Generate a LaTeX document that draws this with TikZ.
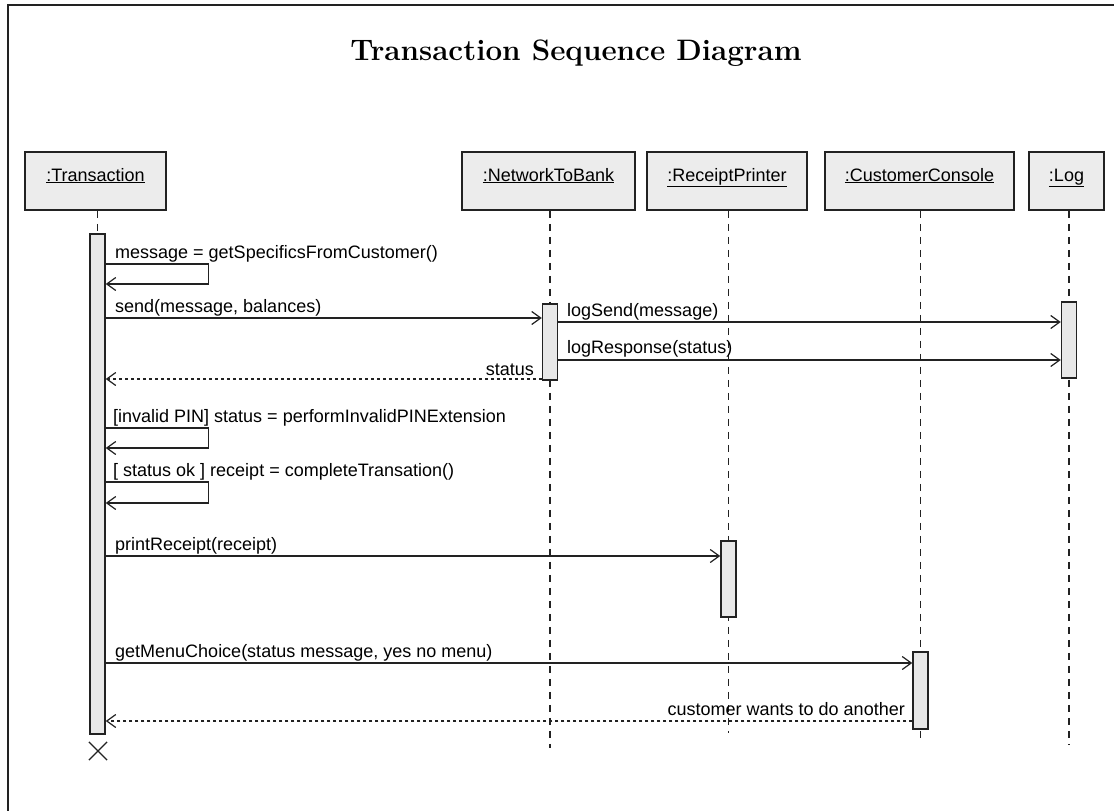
\documentclass[tikz,border=0pt]{standalone}
\usepackage{fontspec}
\newfontfamily\lblfont{Liberation Sans}
\usetikzlibrary{arrows.meta,shapes.misc}
\definecolor{headgray}{RGB}{236,236,236}
\definecolor{actgray}{RGB}{232,232,232}
\definecolor{inkgray}{RGB}{34,34,34}

\begin{document}
\begin{tikzpicture}[x=1pt,y=-1pt,
  frame/.style={draw=inkgray, line width=2pt},
  head/.style={draw=inkgray, line width=1.5pt, fill=headgray, minimum height=58pt,
    inner sep=0pt, text height=8pt, text depth=8pt,
    font=\lblfont\fontsize{18}{20}\selectfont},
  life/.style={draw=inkgray, line width=1.6pt, dash pattern=on 7pt off 6pt},
  act/.style={draw=inkgray, line width=1.5pt, fill=actgray, minimum width=15pt, inner sep=0pt},
  msg/.style={draw=inkgray, line width=1.4pt,
    -{Straight Barb[length=9pt,width=13pt,line width=1.2pt]}},
  ret/.style={msg, dash pattern=on 3pt off 3pt},
  lbl/.style={font=\lblfont\fontsize{18}{20}\selectfont, inner sep=0pt, anchor=base west},
  destroy/.style={draw=inkgray, cross out, line width=1.2pt, minimum size=17pt, inner sep=0pt},
]
% canvas and frame
\fill[white] (0,0) rectangle (1114,811);
\useasboundingbox (0,0) rectangle (1114,811);
\draw[frame] (8,811) -- (8,5) -- (1114,5);

% title
\node[font=\fontsize{29.6}{34}\selectfont\bfseries, anchor=base, inner sep=0pt] (title)
  at (576,60) {Transaction Sequence Diagram};

% object heads
\node[head, minimum width=141pt] (hT) at (95.5,181)  {\underline{:Transaction}};
\node[head, minimum width=173pt] (hN) at (548.5,181) {\underline{:NetworkToBank}};
\node[head, minimum width=160pt] (hR) at (727,181)   {\underline{:ReceiptPrinter}};
\node[head, minimum width=189pt] (hC) at (919.5,181) {\underline{:CustomerConsole}};
\node[head, minimum width=75pt]  (hL) at (1066.5,181){\underline{:Log}};

% lifeline ends
\coordinate (endN) at (550,748);
\coordinate (endR) at (728.5,733);
\coordinate (endC) at (920.5,743);
\coordinate (endL) at (1069,745);

% lifelines
\draw[life] (hN.south -| endN) -- (endN);
\draw[life] (hR.south -| endR) -- (endR);
\draw[life] (hC.south -| endC) -- (endC);
\draw[life] (hL.south -| endL) -- (endL);

% activation bars
\node[act, minimum height=500pt] (aT) at (97.5,484) {};
\node[act, minimum height=76pt]  (aN) at (550,342) {};
\node[act, minimum height=76pt]  (aL) at (1069,340) {};
\node[act, minimum height=76pt]  (aR) at (728.5,579) {};
\node[act, minimum height=77pt]  (aC) at (920.5,690.5) {};
\draw[life] (hT.south -| aT) -- (aT.north);

% destruction of the transaction
\node[destroy] (xT) at (98,751) {};

% messages
\draw[msg] (aT.east |- 0,264) -- ++(103,0) -- ++(0,20) -- (aT.east |- 0,284);
\draw[msg] (aT.east |- 0,318) -- (aN.west |- 0,318);
\draw[msg] (aN.east |- 0,322) -- (aL.west |- 0,322);
\draw[msg] (aN.east |- 0,360) -- (aL.west |- 0,360);
\draw[ret] (aN.west |- 0,379) -- (aT.east |- 0,379);
\draw[msg] (aT.east |- 0,428) -- ++(103,0) -- ++(0,20) -- (aT.east |- 0,448);
\draw[msg] (aT.east |- 0,482) -- ++(103,0) -- ++(0,21) -- (aT.east |- 0,503);
\draw[msg] (aT.east |- 0,556) -- (aR.west |- 0,556);
\draw[msg] (aT.east |- 0,663) -- (aC.west |- 0,663);
\draw[ret] (aC.west |- 0,721) -- (aT.east |- 0,721);

% message labels
\node[lbl] (m1) at (115,258) {message = getSpecificsFromCustomer()};
\node[lbl] (m2) at (115,312) {send(message, balances)};
\node[lbl] (m3) at (567,316) {logSend(message)};
\node[lbl] (m4) at (567,353) {logResponse(status)};
\node[lbl, anchor=base east] (m5) at (534,375) {status};
\node[lbl] (m6) at (113,422) {[invalid PIN] status = performInvalidPINExtension};
\node[lbl] (m7) at (113,476) {[ status ok ] receipt = completeTransation()};
\node[lbl] (m8) at (115,550) {printReceipt(receipt)};
\node[lbl] (m9) at (115,657) {getMenuChoice(status message, yes no menu)};
\node[lbl, anchor=base east] (m10) at (905,715) {customer wants to do another};
\end{tikzpicture}
\end{document}
